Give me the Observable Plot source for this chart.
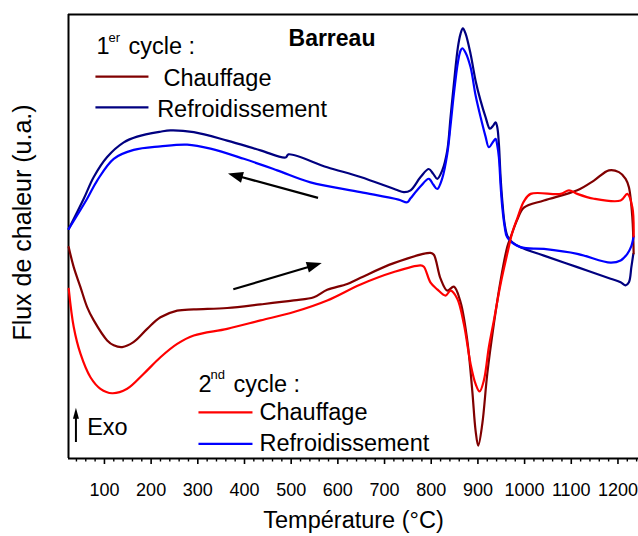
<!DOCTYPE html>
<html><head><meta charset="utf-8">
<script src="https://cdn.jsdelivr.net/npm/d3@7"></script>
<script src="https://cdn.jsdelivr.net/npm/@observablehq/plot@0.6"></script>
<style>
body{margin:0;background:#fff;}
#chart svg{display:block;}
</style></head><body><div id="chart"></div>
<script>
// ---- Data (temperature °C, heat flux in arbitrary units) ----
const c1HeatT = [23.5,34.2,48.6,62.9,77.1,105.8,119.9,137.9,162.1,191.5,220,255.8,291.4,362.9,434.3,505.7,548.5,577.2,620.1,648.6,719.9,798.6,805.6,820,834.4,848.5,862.9,877.2,887.9,895,900.7,909.4,920.1,934.2,948.6,962.9,970,984.4,998.5,1041.4,1112.9,1148.5,1180.6,1202.1,1216.4,1223.5,1230.8,1233.6];
const c1HeatV = [47.6,43.1,38.6,34.1,31.1,26.6,25.5,25.1,26.2,29.2,31.8,33.3,33.6,33.9,34.7,35.6,36.3,38.0,39.3,40.7,44.0,46.3,45.9,40.5,37.8,38.7,35.2,26.6,15.3,6.3,2.9,7.8,19.1,30.3,40.1,47.7,49.8,53.8,56.5,58.1,60.4,62.6,64.9,64.5,63.0,61.1,54.3,46.2];

const c1CoolT = [1232.9,1228.7,1223.5,1216.4,1205.7,1184.3,1112.9,1041.4,991.4,973.7,962.9,957.2,952.2,948.6,944.9,941.5,937.9,932.9,925.6,916.4,905.7,895,884.3,873.6,867.8,862.9,857.1,848.5,841.4,834.4,823.6,812.9,804.4,794.9,777.2,755.7,741.4,723.6,648.6,577.2,494.3,487.9,434.3,362.9,291.4,241.4,220,170.1,141.4,105.8,77.1,55.6,23.5];
const c1CoolV = [46.1,43.1,39.7,39.0,39.7,40.5,43.1,45.7,47.6,48.7,50.2,52.9,58.1,63.4,70.9,74.6,75.7,75.0,74.3,76.9,80.6,85.1,91.1,95.7,96.9,95.7,92.6,84.4,76.9,69.4,64.9,63.0,64.1,65.2,63.4,60.4,60.0,60.6,63.4,65.6,68.5,67.8,69.4,71.6,73.5,73.9,73.6,72.5,71.2,67.9,63.4,58.5,51.7];

const c2HeatT = [23.5,34.2,48.6,70,91.4,116.5,148.6,184.2,220,255.8,291.4,362.9,434.3,505.7,577.2,648.6,719.9,777.2,784.2,798.6,812.9,830.7,841.4,855.8,869.9,884.3,895,903.6,912.8,923.5,934.2,948.6,962.9,973.7,984.4,998.5,1012.9,1077.2,1095,1112.9,1148.5,1205.7,1220.1,1230.8,1233.6];
const c2HeatV = [38.2,29.6,23.6,18.3,15.7,14.7,15.7,19.1,22.8,25.8,27.7,29.2,31.1,33.0,35.6,39.2,42.0,43.5,43.2,39.6,38.1,36.7,37.8,36.0,30.3,21.3,16.8,15.1,17.6,25.1,31.1,39.3,46.1,50.9,54.1,57.9,59.6,59.6,60.4,59.6,58.5,58.1,59.6,56.6,50.0];

const c2CoolT = [1233.6,1228.2,1220.1,1205.7,1184.3,1112.9,1041.4,991.4,962.9,957.2,952.2,948.6,944.9,941.5,937.9,932.9,923.5,916.4,905.7,895,884.3,873.6,866.5,862.9,857.1,848.5,841.4,834.4,823.6,812.9,804.4,794.9,777.2,755.7,748.6,730,648.6,541.4,470.1,398.5,327.1,277.2,220,162.8,119.9,84.4,62.9,23.5];
const c2CoolV = [50.0,47.7,46.1,44.6,44.1,46.1,47.2,47.6,49.8,52.3,56.6,61.5,67.9,70.5,72.0,71.4,70.1,72.5,76.9,81.8,88.1,91.4,92.4,91.9,89.2,82.1,75.0,68.6,63.1,60.7,61.7,63.0,61.3,58.6,57.7,58.3,60.0,62.2,64.9,67.5,69.8,70.7,70.3,69.5,67.5,62.6,58.5,51.7];

const majorTicks = [100,200,300,400,500,600,700,800,900,1000,1100,1200];
const minorTicks = d3.range(40, 1241, 20).filter(t => t % 100 !== 0);

// annotation arrows (data units): start -> tip
const arrowX1 = [558.6, 377.1, 40];
const arrowY1 = [58.6, 38.0, 3.6];
const arrowX2 = [365.7, 566.5, 40];
const arrowY2 = [64.1, 43.9, 11.3];

// legend swatches
const swatchX1 = [80.7, 80.7, 301.4, 301.4];
const swatchX2 = [194.3, 194.3, 417.1, 417.1];
const swatchY  = [86.0, 79.1, 10.4, 3.3];
const swatchColor = ["#800000", "#000080", "#ff0000", "#0000ff"];

// text labels (main size)
const labelText = ["1", "cycle :", "Chauffage", "Refroidissement", "2", "cycle :", "Chauffage", "Refroidissement", "Exo"];
const labelX    = [82.9, 151.4, 226.4, 212.9, 301.4, 376.4, 432.1, 432.1, 62.9];
const labelY    = [91.2, 91.2, 83.8, 77.0, 14.9, 14.9, 8.6, 1.6, 5.2];
// superscripts
const supText = ["er", "nd"];
const supX = [108.6, 327.1];
const supY = [93.7, 18.0];
// title
const titleText = ["Barreau"];
const titleX = [494.3];
const titleY = [93.0];

const xTitle = "Température (°C)";
const yTitle = "Flux de chaleur (u.a.)";

// ---- build ----
const font = '"Liberation Sans", Arial, Helvetica, sans-serif';
const ser = (Ts, Vs) => Ts.map((t, i) => ({T: t, V: Vs[i]}));
const curveOpts = {x: "T", y: "V", strokeWidth: 2.2, curve: "catmull-rom"};

const arrows = arrowX1.map((x, i) => ({x1: x, y1: arrowY1[i], x2: arrowX2[i], y2: arrowY2[i]}));
const swatches = swatchX1.map((x, i) => ({x1: x, x2: swatchX2[i], y: swatchY[i], c: swatchColor[i]}));
const labels = labelText.map((t, i) => ({t, x: labelX[i], y: labelY[i]}));
const sups = supText.map((t, i) => ({t, x: supX[i], y: supY[i]}));
const titles = titleText.map((t, i) => ({t, x: titleX[i], y: titleY[i]}));

function arrowMark(index, scales) {
  const ns = "http://www.w3.org/2000/svg";
  const g = document.createElementNS(ns, "g");
  arrows.forEach((a, i) => {
    const small = i === 2;
    const len = small ? 11 : 15, wid = small ? 6 : 11, sw = small ? 2 : 2.2;
    const ax = scales.x(a.x1), ay = scales.y(a.y1), bx = scales.x(a.x2), by = scales.y(a.y2);
    const dx = bx - ax, dy = by - ay, L = Math.hypot(dx, dy), ux = dx / L, uy = dy / L;
    const cx = bx - ux * len, cy = by - uy * len;
    const line = document.createElementNS(ns, "line");
    line.setAttribute("x1", ax); line.setAttribute("y1", ay);
    line.setAttribute("x2", cx + ux * 2); line.setAttribute("y2", cy + uy * 2);
    line.setAttribute("stroke", "black"); line.setAttribute("stroke-width", sw);
    g.appendChild(line);
    const p = document.createElementNS(ns, "polygon");
    p.setAttribute("points", `${bx},${by} ${cx - uy * wid / 2},${cy + ux * wid / 2} ${cx + uy * wid / 2},${cy - ux * wid / 2}`);
    p.setAttribute("fill", "black");
    g.appendChild(p);
  });
  return g;
}

const chart = Plot.plot({
  width: 638,
  height: 536,
  marginLeft: 68,
  marginRight: 0,
  marginTop: 14,
  marginBottom: 78,
  style: {fontFamily: font, fontSize: "18px", color: "black", background: "white"},
  x: {domain: [23, 1244], label: null},
  y: {domain: [0, 100], axis: null, label: null},
  marks: [
    Plot.ruleY([0], {strokeWidth: 2}),
    Plot.ruleY([100], {strokeWidth: 2}),
    Plot.ruleX([23], {strokeWidth: 2}),
    Plot.axisX({ticks: majorTicks, tickSize: 6, tickPadding: 19, strokeWidth: 1.6, fontSize: 18, tickFormat: d => String(d), label: null}),
    Plot.axisX({ticks: minorTicks, tickSize: 3.5, strokeWidth: 1.4, tickFormat: () => "", label: null}),
    Plot.line(ser(c1CoolT, c1CoolV), {...curveOpts, stroke: "#000080"}),
    Plot.line(ser(c1HeatT, c1HeatV), {...curveOpts, stroke: "#800000"}),
    Plot.line(ser(c2CoolT, c2CoolV), {...curveOpts, stroke: "#0000ff"}),
    Plot.line(ser(c2HeatT, c2HeatV), {...curveOpts, stroke: "#ff0000"}),
    Plot.link(swatches, {x1: "x1", x2: "x2", y1: "y", y2: "y", stroke: "c", strokeWidth: 2.2}),
    arrowMark,
    Plot.text(labels, {x: "x", y: "y", text: "t", textAnchor: "start", lineAnchor: "bottom", fontSize: 23.5, fill: "black"}),
    Plot.text(sups, {x: "x", y: "y", text: "t", textAnchor: "start", lineAnchor: "bottom", fontSize: 13, fill: "black"}),
    Plot.text(titles, {x: "x", y: "y", text: "t", textAnchor: "start", lineAnchor: "bottom", fontSize: 23, fontWeight: "bold", fill: "black"}),
    Plot.text([xTitle], {frameAnchor: "bottom", text: d => d, textAnchor: "middle", lineAnchor: "middle", dy: 62, fontSize: 23.5, fill: "black"}),
    Plot.text([yTitle], {frameAnchor: "left", text: d => d, rotate: -90, textAnchor: "middle", lineAnchor: "middle", dx: -46, dy: -14, fontSize: 25, fill: "black"})
  ]
});
document.getElementById("chart").appendChild(chart);
</script>
</body></html>
